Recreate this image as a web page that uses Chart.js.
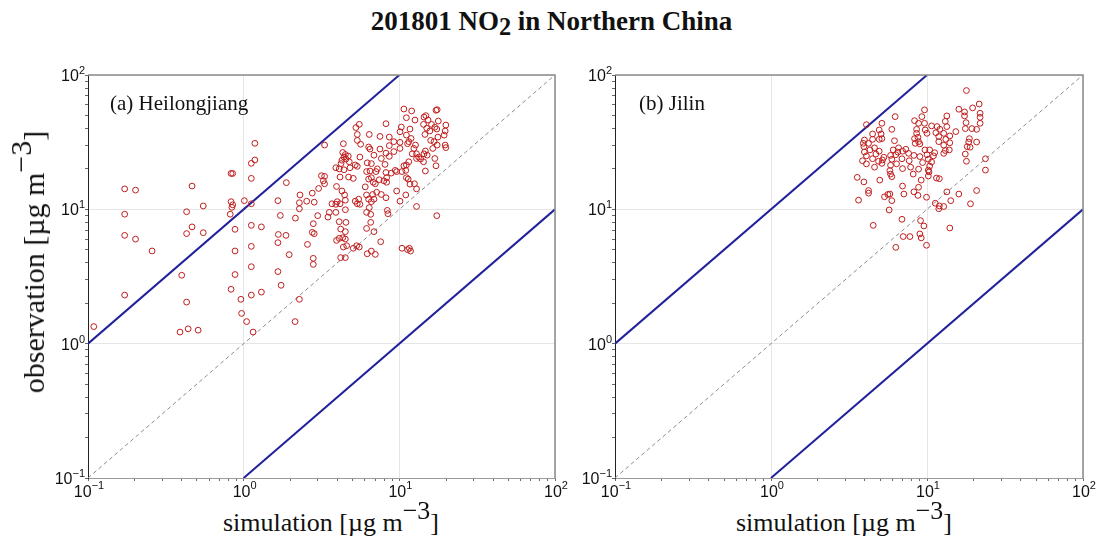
<!DOCTYPE html>
<html>
<head>
<meta charset="utf-8">
<script src="https://cdn.jsdelivr.net/npm/chart.js@4.4.1/dist/chart.umd.min.js"></script>
<style>
body { margin: 0; background: #fff; width: 1103px; height: 545px; position: relative; overflow: hidden;
       font-family: "Liberation Serif", "Times New Roman", serif; color: #111; }
canvas { position: absolute; top: 0; }
.txt { position: absolute; white-space: nowrap; line-height: 1; }
#title { left: 0; width: 1103px; text-align: center; top: 8px; font-size: 27px; font-weight: bold; }
#title sub { font-size: 0.9em; position: relative; top: 0.22em; vertical-align: baseline; }
.xt { font-size: 26px; top: 510px; }
.up { position: relative; top: -0.45em; }
#ytitle { font-size: 30px; left: 34px; top: 262px; transform: translate(-50%, -50%) rotate(-90deg); }
.panel { font-size: 21px; top: 93px; }
</style>
</head>
<body>
<div id="title" class="txt">201801 NO<sub>2</sub> in Northern China</div>
<canvas id="chartA" width="580" height="500" style="left:0"></canvas>
<canvas id="chartB" width="543" height="500" style="left:560px"></canvas>
<div class="txt panel" style="left:110px">(a) Heilongjiang</div>
<div class="txt panel" style="left:639px">(b) Jilin</div>
<div id="ytitle" class="txt">observation [µg m<span class="up">−3</span>]</div>
<div class="txt xt" style="left:223px">simulation [µg m<span class="up">−3</span>]</div>
<div class="txt xt" style="left:736px">simulation [µg m<span class="up">−3</span>]</div>
<script>
// 對數軸刻度
const majorTicks = [0.1, 1, 10, 100];
const tickBase = '10';
const tickExps = ['−1', '0', '1', '2'];
const minorSteps = [2, 3, 4, 5, 6, 7, 8, 9];

// 參考線 (1:10, 1:1, 10:1)
const upperLine = [[0.1, 1], [10, 100]];
const oneToOne = [[0.1, 0.1], [100, 100]];
const lowerLine = [[1, 0.1], [100, 10]];

// (a) 黑龍江: [模擬, 觀測]
const pointsA = [
  [1.18,31],[1.18,23.3],[1.12,22],[0.83,18.5],[0.85,18.5],[1.12,17],[0.172,14.2],[0.202,13.9],[0.466,14.9],[1.88,15.8],
  [0.83,11.4],[0.85,10.8],[0.84,10.35],[0.82,9.2],[1.01,11.6],[1.12,11],[1.66,11.6],[0.43,9.6],[0.55,10.6],[0.172,9.2],
  [0.172,6.4],[0.202,6.0],[0.258,4.9],[0.466,7.4],[0.43,6.6],[0.55,6.7],[0.88,7.1],[1.12,7.6],[1.30,7.4],[1.72,9.0],
  [2.15,8.6],[2.28,11.2],[2.28,10.1],[1.87,6.4],[1.66,5.65],[1.96,4.6],[0.88,4.9],[1.12,5.3],[1.12,3.74],[0.40,3.23],
  [0.88,3.27],[1.66,3.44],[1.74,2.72],[0.83,2.54],[0.96,2.14],[1.12,2.3],[1.30,2.42],[2.28,2.14],[0.172,2.3],[0.43,2.04],
  [0.97,1.68],[1.045,1.46],[2.14,1.46],[1.15,1.22],[0.39,1.22],[0.44,1.29],[0.51,1.26],[0.109,1.34],[1.67,6.5],[3.31,30.1],
  [10.7,55.8],[12.0,54.0],[17.2,54.6],[17.5,55.2],[11.1,48.1],[12.6,46.2],[14.4,48.6],[14.8,49.8],[15.3,46.2],[14.3,42.9],
  [16.1,42.9],[16.9,40.8],[17.4,39.6],[15.0,40.1],[15.7,38.3],[14.6,36.1],[19.9,42.4],[19.7,38.3],[19.4,35.7],[17.8,45.4],
  [8.21,43.4],[5.53,42.9],[5.26,40.6],[10.3,41.0],[10.1,37.8],[11.7,39.6],[11.1,35.7],[11.9,33.7],[11.5,31.9],[11.3,30.8],
  [10.1,31.5],[12.7,30.1],
  [6.41,36.1],[5.37,36.1],[7.51,34.9],[8.62,34.5],[9.22,31.9],[6.35,29.1],[6.48,28.1],[7.51,28.1],[8.62,29.8],[10.1,28.4],
  [9.22,26.9],[8.21,26.2],[8.62,24.8],[7.66,23.9],[6.87,25.3],[5.58,24.5],[5.37,32.6],[5.64,30.5],
  [4.37,30.8],[4.33,26.5],[4.50,25.6],[4.41,24.5],[4.70,24.9],[4.28,23.2],[4.54,23.7],[4.77,22.6],[4.22,21.9],[3.91,20.4],
  [4.11,20.0],[4.41,19.7],[4.82,20.4],[5.21,21.4],[5.37,20.9],[6.16,19.1],[6.22,22.2],[6.61,21.9],[6.48,19.3],[7.22,20.0],
  [7.08,19.1],
  [8.09,21.6],[8.21,18.8],[8.29,17.2],[7.96,16.3],[8.87,18.6],[9.61,19.1],[9.41,19.5],[10.4,19.1],[11.0,19.5],[10.7,21.1],
  [11.1,21.4],[11.5,22.6],[12.1,25.9],[12.9,23.9],[13.3,24.5],[12.4,28.4],[12.9,25.9],[14.4,25.9],[14.7,27.2],[15.1,25.3],
  [13.7,23.7],[14.3,22.6],[14.7,19.3],[16.9,23.9],[17.2,21.1],[16.4,28.4],[16.7,31.9],[17.5,30.1],[19.7,30.1],[19.9,28.8],
  [15.9,32.6],[17.7,34.5],
  [11.1,17.2],[11.4,16.8],[12.5,15.5],[11.7,15.4],[12.9,14.2],[8.29,15.9],[7.43,16.6],[7.01,15.5],[6.61,17.2],[6.80,15.9],
  [6.35,16.8],[6.04,14.7],[6.16,12.8],[6.74,12.9],[7.15,13.4],[7.66,12.9],[6.35,11.9],[6.87,11.9],[6.61,11.4],[5.48,11.9],
  [5.37,11.0],[5.21,11.5],[5.58,10.9],[8.21,12.2],[9.61,13.7],[10.1,11.5],[11.0,12.8],[12.9,10.5],[17.4,8.97],
  [5.06,17.0],[4.72,17.4],[4.16,17.4],[3.95,14.8],[4.28,13.7],[4.45,12.8],[4.50,11.7],[3.99,11.4],[3.91,10.9],[3.69,11.0],
  [4.16,11.0],[3.31,15.5],[3.25,16.3],[3.16,17.8],[3.03,14.3],[3.31,17.6],[2.76,13.2],[2.84,11.3],[2.54,11.5],[2.30,12.8],
  [4.50,9.93],[3.91,9.49],[3.55,9.49],[3.48,8.76],[2.99,8.97],[2.80,7.82],[4.11,8.09],[4.54,8.0],[4.50,6.82],[4.20,7.13],
  [4.11,6.08],[3.95,5.87],[4.33,6.15],[4.50,6.01],[4.59,5.36],[4.37,5.24],[5.06,5.13],[5.32,5.36],[5.53,5.24],[6.41,10.3],
  [6.55,9.18],[6.16,9.49],[6.55,8.0],[6.16,7.21],[6.87,6.82],[7.59,5.74],[8.37,9.82],[8.45,9.28],[2.76,6.74],[2.84,6.59],
  [2.57,5.48],[2.80,4.32],[2.80,3.89],[4.50,4.37],[4.20,4.37],[6.22,4.67],[6.61,4.89],[7.01,4.62],[11.3,5.01],[11.8,4.89],
  [11.6,5.13],[10.4,5.13]
];

// (b) 吉林: [模擬, 觀測]
const pointsB = [
  [17.9,76.6],[21.6,60.8],[19.6,56.9],[16.0,55.6],[21.9,51.9],[21.9,48.4],[21.9,43.7],[20.8,39.4],[19.4,39.9],[17.4,53.1],
  [17.4,49.6],[17.8,44.2],[17.6,39.9],[18.7,33.6],[18.5,31.7],[18.9,29.0],[17.6,25.8],[17.9,22.8],[23.7,23.8],[23.7,19.6],
  [20.8,31.7],[18.1,29.3],
  [9.64,55.0],[9.27,49.0],[8.32,45.7],[8.83,43.7],[8.58,39.4],[8.58,36.8],[8.75,34.4],[8.83,31.9],[8.32,33.6],[9.0,30.7],
  [8.41,31.0],[9.64,43.7],[9.74,39.0],[10.0,36.8],[10.7,41.8],[11.6,41.3],[11.4,37.2],[12.1,39.4],[11.9,34.8],[11.9,31.9],
  [13.4,49.6],[13.1,45.2],[13.4,41.3],[12.8,36.8],[13.2,33.2],[12.8,30.0],[13.1,27.4],[12.8,26.1],[14.0,35.2],[14.0,31.3],
  [15.3,37.9],[13.9,27.7],
  [9.70,27.7],[10.0,25.5],[10.4,27.7],[10.2,23.6],[11.0,25.0],[10.7,22.5],[11.2,26.4],[10.4,21.0],[10.2,19.6],[10.2,17.7],
  [11.5,17.1],[12.0,16.9],[10.3,19.0],[9.0,24.7],[9.37,22.3],[8.83,19.9],[9.18,16.5],[8.16,18.3],[7.85,20.6],[7.69,23.0],
  [8.24,25.2],[7.62,26.1],[7.32,28.0],[6.97,27.1],
  [6.25,49.0],[5.95,39.4],[6.19,32.4],[6.07,27.7],[5.84,25.2],[6.31,25.5],[5.95,23.6],[5.84,21.3],[5.78,19.4],[5.84,18.3],
  [5.95,17.5],[6.38,21.8],[6.97,20.1],[6.91,23.8],[6.57,28.7],[6.50,26.7],
  [5.14,43.7],[4.94,39.0],[5.08,36.4],[5.14,33.6],[4.94,33.2],[4.48,36.4],[4.48,33.2],[4.61,28.7],[4.70,25.8],[4.94,27.1],
  [5.19,23.3],[5.14,22.0],[5.29,24.4],[4.89,22.8],[4.48,23.8],[4.61,20.6],[4.09,21.8],[3.86,23.0],[3.97,32.8],[3.94,29.3],
  [3.97,26.7],[3.90,31.0],[4.09,42.7],[4.22,31.0],[4.31,27.7],[4.09,25.0],
  [4.98,16.5],[4.22,13.8],[4.22,13.2],[3.57,17.3],[3.94,16.0],[3.64,11.7],[5.34,12.4],[5.61,12.9],[5.78,13.0],[5.95,11.6],
  [5.72,9.89],[6.97,14.9],[7.11,13.0],[8.24,13.5],[8.83,14.6],[8.75,12.7],[9.93,12.3],[13.4,13.5],[16.0,13.0],[14.2,11.6],
  [11.3,11.1],[12.0,10.6],[12.8,10.5],[11.9,10.1],[20.8,13.8],[19.0,11.0],
  [4.52,7.60],[6.91,8.43],[9.09,8.24],[9.55,7.52],[9.0,6.56],[9.18,6.13],[7.77,6.27],[7.04,6.27],[14.0,7.26],[6.31,5.21],
  [9.93,5.40]
];

// 主刻度加上 2~9 倍的次刻度
const allTicks = [];
majorTicks.forEach((m, i) => {
    allTicks.push(m);
    if (i < majorTicks.length - 1) minorSteps.forEach(s => allTicks.push(+(m * s).toPrecision(3)));
});
const majorIndex = v => majorTicks.findIndex(m => Math.abs(v / m - 1) < 1e-6);

function logAxis(fit, borderColor) {
    return {
        type: 'logarithmic',
        min: 0.1,
        max: 100,
        afterBuildTicks: s => { s.ticks = allTicks.map(v => ({ value: v })); },
        afterFit: fit,
        ticks: { display: false, autoSkip: false },
        grid: {
            color: c => majorIndex(c.tick.value) >= 0 ? '#e6e6e6' : 'rgba(0,0,0,0)',
            tickColor: '#666',
            tickLength: 3
        },
        border: { color: borderColor, width: 1 }
    };
}

// 畫上方與右側的灰色邊框
const frame = {
    id: 'frame',
    afterDatasetsDraw(chart) {
        const { ctx, chartArea: a } = chart;
        ctx.save();
        ctx.strokeStyle = '#8a8a8a';
        ctx.lineWidth = 1.5;
        ctx.beginPath();
        ctx.moveTo(a.left, a.top);
        ctx.lineTo(a.right, a.top);
        ctx.lineTo(a.right, a.bottom);
        ctx.stroke();
        ctx.restore();
    }
};

// 刻度文字: 10 加上標指數
const baseFont = '16px "Liberation Sans", Arial, sans-serif';
const expFont = '11px "Liberation Sans", Arial, sans-serif';
const tickText = {
    id: 'tickText',
    afterDraw(chart) {
        const { ctx, scales: { x, y } } = chart;
        ctx.save();
        ctx.fillStyle = '#111';
        ctx.textBaseline = 'alphabetic';
        ctx.textAlign = 'left';
        majorTicks.forEach((m, i) => {
            ctx.font = baseFont;
            const wb = ctx.measureText(tickBase).width;
            ctx.font = expFont;
            const we = ctx.measureText(tickExps[i]).width;
            // x 軸
            let left = x.getPixelForValue(m) - (wb + we) / 2 + 1;
            let base = x.top + 19;
            ctx.font = baseFont;
            ctx.fillText(tickBase, left, base);
            ctx.font = expFont;
            ctx.fillText(tickExps[i], left + wb, base - 8);
            // y 軸
            left = y.right - 3 - wb - we;
            base = y.getPixelForValue(m) + 6;
            ctx.font = baseFont;
            ctx.fillText(tickBase, left, base);
            ctx.font = expFont;
            ctx.fillText(tickExps[i], left + wb, base - 7);
        });
        ctx.restore();
    }
};

const toXY = arr => arr.map(p => ({ x: p[0], y: p[1] }));

function makeChart(id, points, yWidth, rightPad) {
    return new Chart(document.getElementById(id), {
        type: 'scatter',
        data: {
            datasets: [
                {
                    data: toXY(points),
                    pointStyle: 'circle',
                    pointRadius: 2.9,
                    pointBorderWidth: 1,
                    borderColor: '#bf1c1c',
                    backgroundColor: 'rgba(0,0,0,0)',
                    order: 0
                },
                { data: toXY(upperLine), showLine: true, borderColor: '#21219b', borderWidth: 2, pointRadius: 0, order: 1 },
                { data: toXY(lowerLine), showLine: true, borderColor: '#21219b', borderWidth: 2, pointRadius: 0, order: 1 },
                { data: toXY(oneToOne), showLine: true, borderColor: '#8c8c8c', borderWidth: 1, borderDash: [4, 3], pointRadius: 0, order: 2 }
            ]
        },
        options: {
            responsive: false,
            animation: false,
            layout: { autoPadding: false, padding: { top: 75, right: rightPad, left: 0, bottom: 0 } },
            scales: {
                x: logAxis(s => { s.height = 22; }, '#9a9a9a'),
                y: logAxis(s => { s.width = yWidth; }, '#222')
            },
            plugins: { legend: { display: false }, tooltip: { enabled: false } }
        },
        plugins: [frame, tickText]
    });
}

makeChart('chartA', pointsA, 88, 25);
makeChart('chartB', pointsB, 55, 20);
</script>
</body>
</html>
